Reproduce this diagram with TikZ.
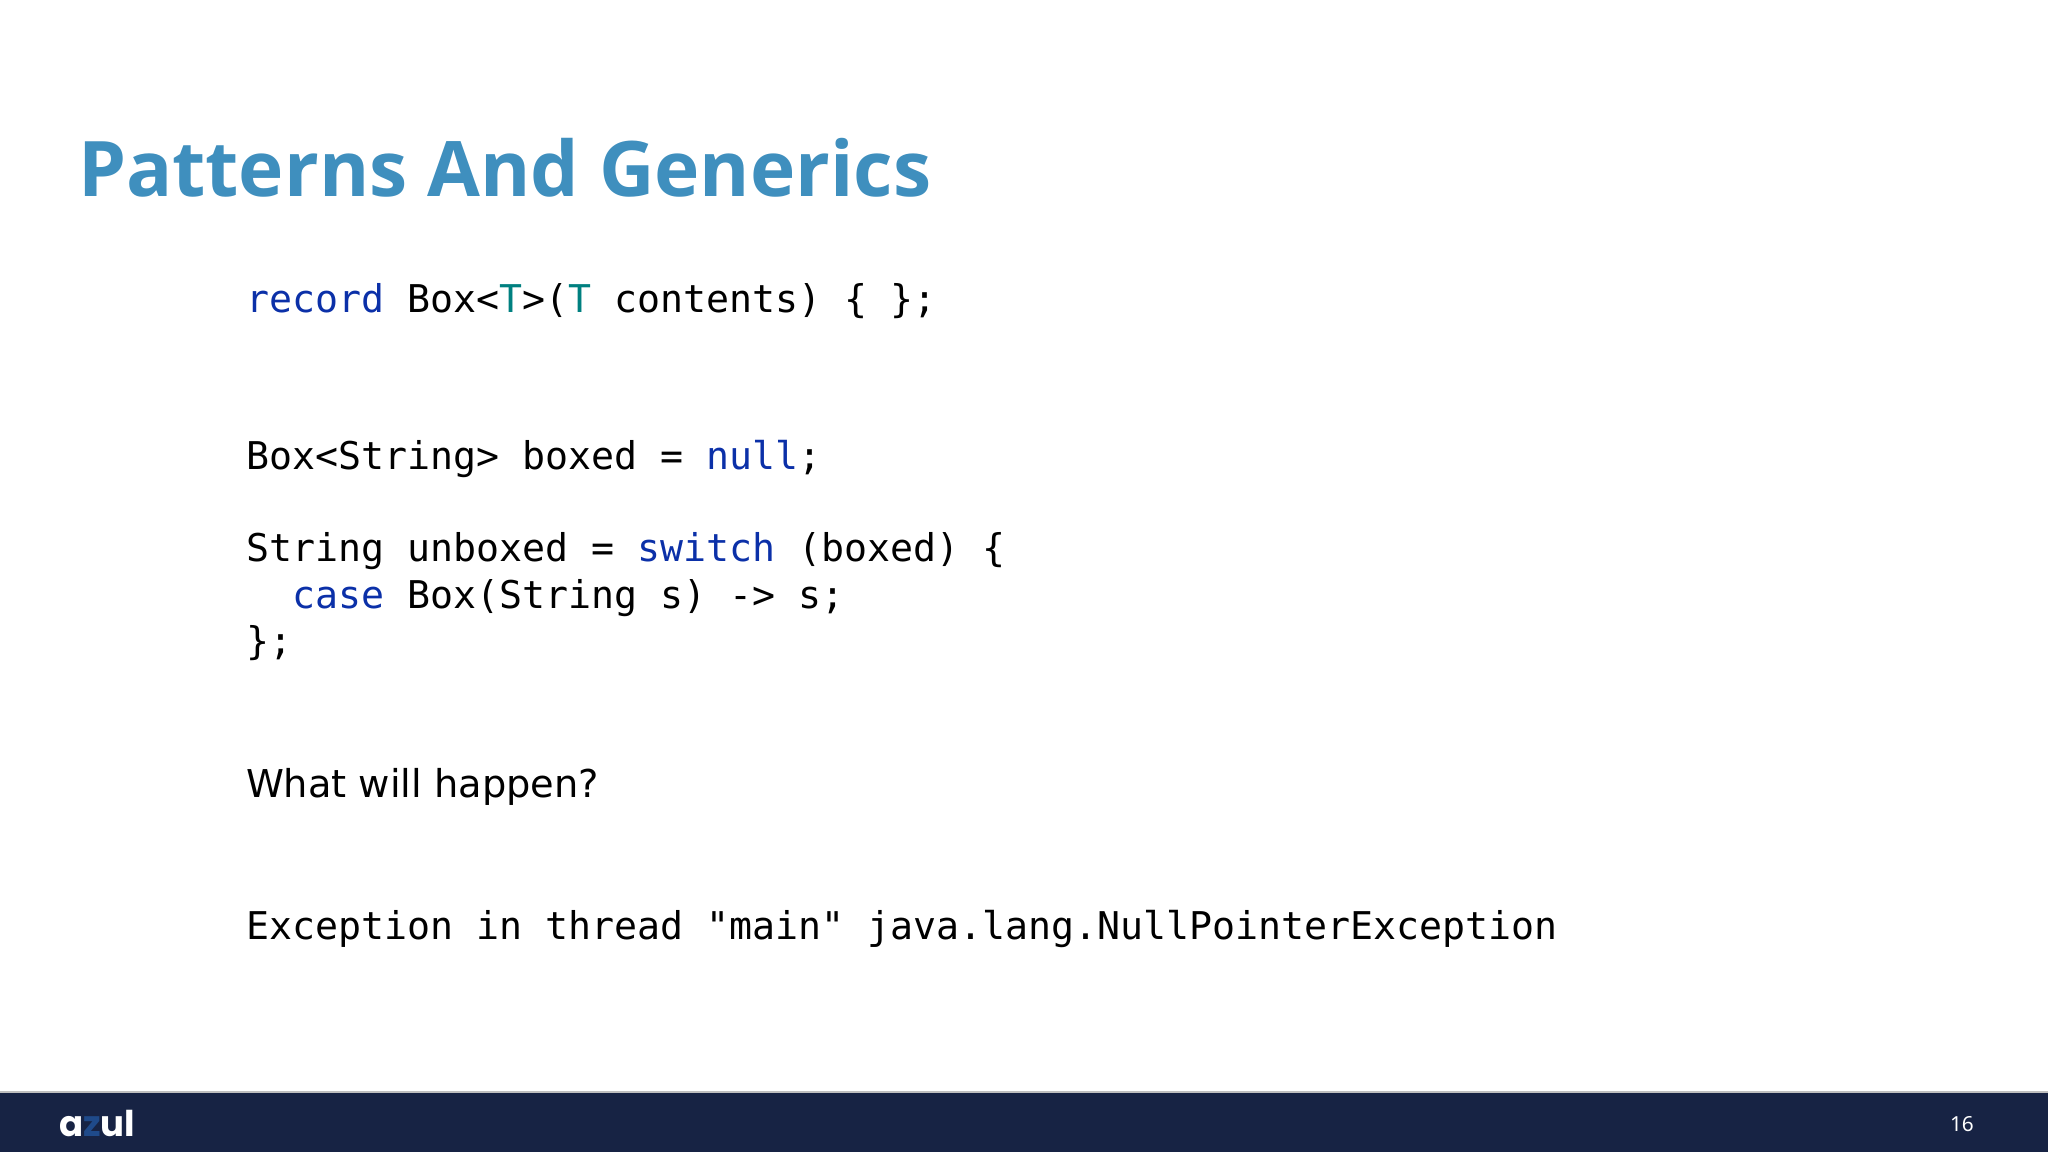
\documentclass[tikz,border=0pt]{standalone}
\usepackage{fontspec}
\setmainfont{Noto Sans}
\newfontfamily\titlefont{Open Sans}
\newfontfamily\codefont{DejaVu Sans Mono}
\newfontfamily\promptfont{DejaVu Sans}
\newfontfamily\logofont{Poppins}
\definecolor{keyword}{HTML}{0B30A8}
\definecolor{typevar}{HTML}{008080}
\definecolor{heading}{HTML}{3F8FBE}
\definecolor{footbar}{HTML}{172344}
\definecolor{logoz}{HTML}{1F4A8A}
\newcommand{\kw}[1]{\textcolor{keyword}{#1}}
\newcommand{\tv}[1]{\textcolor{typevar}{#1}}
\tikzset{
	line/.style={anchor=base west, inner sep=0pt, outer sep=0pt},
	code/.style={line, font=\codefont\fontsize{10.87}{13}\selectfont},
}
\begin{document}
\begin{tikzpicture}[x=0.01cm, y=0.01cm]
\useasboundingbox (0,0) rectangle (2048,-1152);
\fill[footbar] (0,-1092) rectangle (2048,-1152);
\draw[gray!50, line width=0.3pt] (0,-1092) -- (2048,-1092);
\node[line, font=\titlefont\bfseries\fontsize{21.8}{25}\selectfont, text=heading] (title) at (78,-197) {Patterns And Generics};
\node[code] (l1) at (246,-313) {\kw{record} Box<\tv{T}>(\tv{T} contents) \{ \};};
\node[code] (l2) at (246,-470) {Box<String> boxed = \kw{null};};
\node[code] (l3) at (246,-562) {String unboxed = \kw{switch} (boxed) \{};
\node[code] (l4) at (292,-609) {\kw{case} Box(String s) -> s;};
\node[code] (l5) at (246,-655) {\};};
\node[line, font=\promptfont\fontsize{10.9}{13}\selectfont] (ask) at (246,-797) {What will happen?};
\node[code] (l6) at (246,-939) {Exception in thread "main" java.lang.NullPointerException};
\node[line, font=\logofont\fontsize{10.1}{13}\selectfont, text=white] (logo) at (59,-1136) {\bfseries a\textcolor{logoz}{z}ul};
\node[line, font=\fontsize{5.9}{7}\selectfont, text=white] (page) at (1950,-1131) {16};
\end{tikzpicture}
\end{document}
